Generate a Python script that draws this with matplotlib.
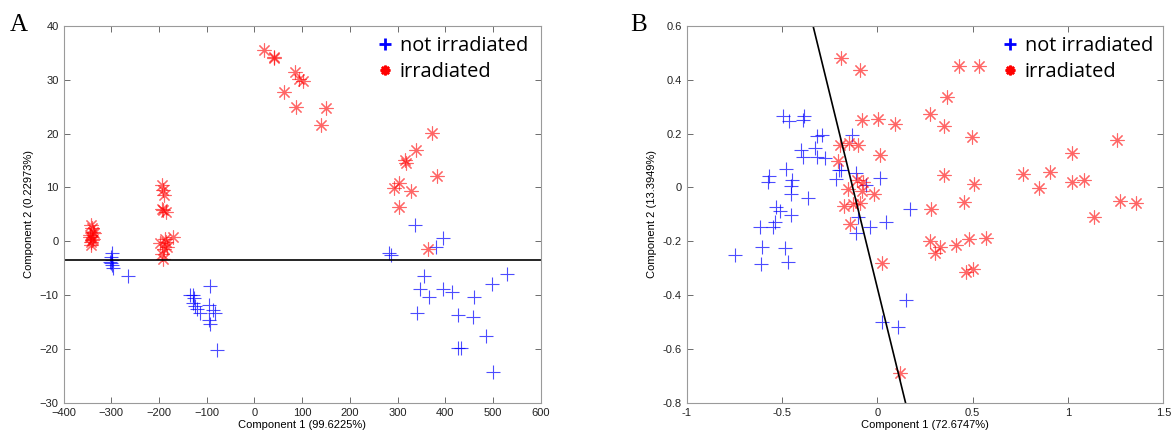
import numpy as np
import matplotlib.pyplot as plt
from matplotlib.lines import Line2D

# panel A data
a_blue_x = [-299, -301, -298, -300, -299, -297, -302, -264,
            -135, -129, -126, -128, -121, -115, -93, -96, -86, -82, -96, -93, -78, -124,
            337, 396, 381, 283, 287, 356, 347, 365, 396, 414, 461, 498, 530,
            340, 426, 459, 486, 426, 433, 500]
a_blue_y = [-2.2, -3.0, -3.5, -4.0, -4.4, -5.0, -3.8, -6.5,
            -10, -10, -10.6, -11.5, -12.5, -13.4, -8.3, -11.9, -12.8, -13.4, -14.6, -15.4, -20.1, -12.0,
            3.1, 0.65, -1.0, -2.2, -2.6, -6.4, -8.9, -10.3, -8.9, -9.5, -10.3, -8.0, -6.1,
            -13.4, -13.6, -14.0, -17.6, -19.9, -19.9, -24.3]
a_red_x = [-343, -339, -344, -341, -342, -336, -340, -345, -338, -343,
           -194, -192, -189, -191, -186, -194, -187, -170, -184, -194, -198, -191, -190, -185,
           20, 40, 41, 84, 94, 102, 62, 87, 150, 139,
           372, 339, 315, 317, 382, 303, 293, 328, 304, 364]
a_red_y = [3.0, 1.8, 0.8, 0.2, -0.7, 1.5, 2.5, 1.2, 0.5, -0.2,
           10.4, 9.5, 8.6, 5.8, 5.5, 6.0, 0.5, 0.8, -1.0, -2.3, -0.4, -3.2, -1.5, -0.2,
           35.5, 34.2, 34.0, 31.4, 30.1, 29.8, 27.7, 24.9, 24.8, 21.7,
           20.2, 17.0, 15.1, 14.5, 12.2, 10.9, 9.9, 9.3, 6.3, -1.5]
a_line_y = -3.4

# panel B data
b_blue_x = [-0.497, -0.463, -0.386, -0.389, -0.319, -0.288, -0.398, -0.389, -0.328, -0.319,
            -0.275, -0.200, -0.218, -0.480, -0.568, -0.571, -0.449, -0.455, -0.455, -0.363,
            -0.533, -0.512, -0.455, -0.538, -0.616, -0.547, -0.604, -0.485, -0.749, -0.608,
            -0.468, -0.135, -0.188, -0.113, 0.013, -0.060, 0.171, -0.101, -0.113, -0.036,
            0.043, 0.148, 0.027, 0.109]
b_blue_y = [0.267, 0.246, 0.267, 0.250, 0.190, 0.196, 0.140, 0.115, 0.147, 0.115,
            0.109, 0.066, 0.032, 0.070, 0.044, 0.022, 0.029, 0.004, -0.025, -0.040,
            -0.073, -0.089, -0.102, -0.127, -0.148, -0.148, -0.220, -0.223, -0.251, -0.284,
            -0.275, 0.196, 0.066, 0.054, 0.035, 0.010, -0.081, -0.108, -0.170, -0.148,
            -0.129, -0.418, -0.499, -0.518]
b_red_x = [-0.188, -0.092, -0.078, 0.001, 0.092, 0.013, -0.197, -0.148, -0.101, -0.206,
           -0.109, -0.075, -0.153, -0.078, -0.017, -0.174, -0.127, -0.092, -0.141, 0.027,
           0.118, 0.275, 0.351, 0.349, 0.284, 0.275, 0.302, 0.328, 0.410, 0.480,
           0.568, 0.463, 0.503, 0.455, 0.429, 0.534, 0.363, 0.494, 0.508, 0.765,
           0.905, 0.849, 1.019, 1.019, 1.083, 1.258, 1.272, 1.356, 1.137]
b_red_y = [0.482, 0.436, 0.252, 0.256, 0.237, 0.122, 0.159, 0.165, 0.159, 0.097,
           0.029, 0.022, -0.006, -0.012, -0.023, -0.068, -0.062, -0.056, -0.136, -0.282,
           -0.691, 0.273, 0.227, 0.047, -0.080, -0.199, -0.242, -0.220, -0.213, -0.192,
           -0.189, -0.313, -0.304, -0.054, 0.451, 0.451, 0.337, 0.188, 0.014, 0.051,
           0.057, -0.002, 0.128, 0.022, 0.026, 0.175, -0.050, -0.058, -0.110]
b_line_x = [-0.337, 0.148]
b_line_y = [0.6, -0.8]

plt.rcParams['font.family'] = ['Liberation Sans', 'DejaVu Sans']
star = (8, 2, 0)

fig = plt.figure(figsize=(11.72, 4.36), dpi=100)
axA = fig.add_axes([0.0542, 0.0761, 0.4072, 0.8643])
axB = fig.add_axes([0.5859, 0.0761, 0.4067, 0.8643])

def style(ax):
    for s in ax.spines.values():
        s.set_color('#9a9a9a')
        s.set_linewidth(0.8)
    ax.tick_params(direction='in', top=True, right=True, labelsize=8,
                   color='#555555', labelcolor='#222222', length=4, width=0.6)

axA.plot(a_blue_x, a_blue_y, '+', color='blue', ms=10, mew=0.8, alpha=0.7, ls='')
axA.plot(a_red_x, a_red_y, marker=star, color='red', ms=10, mew=0.8, alpha=0.6, ls='')
axA.axhline(a_line_y, color='black', lw=1.2)
axA.set_xlim(-400, 600)
axA.set_ylim(-30, 40)
axA.set_xticks(np.arange(-400, 601, 100))
axA.set_yticks(np.arange(-30, 41, 10))
axA.set_xlabel('Component 1 (99.6225%)', fontsize=8, labelpad=2)
axA.set_ylabel('Component 2 (0.22973%)', fontsize=8, labelpad=4)
style(axA)

axB.plot(b_blue_x, b_blue_y, '+', color='blue', ms=10, mew=0.8, alpha=0.7, ls='')
axB.plot(b_red_x, b_red_y, marker=star, color='red', ms=10, mew=0.8, alpha=0.6, ls='')
axB.plot(b_line_x, b_line_y, color='black', lw=1.2)
axB.set_xlim(-1, 1.5)
axB.set_ylim(-0.8, 0.6)
axB.set_xticks([-1, -0.5, 0, 0.5, 1, 1.5])
axB.set_xticklabels(['-1', '-0.5', '0', '0.5', '1', '1.5'])
axB.set_yticks(np.round(np.arange(-0.8, 0.61, 0.2), 1))
axB.set_yticklabels(['-0.8', '-0.6', '-0.4', '-0.2', '0', '0.2', '0.4', '0.6'])
axB.set_xlabel('Component 1 (72.6747%)', fontsize=8, labelpad=2)
axB.set_ylabel('Component 2 (13.3949%)', fontsize=8, labelpad=4)
style(axB)

handles = [Line2D([], [], marker='+', color='blue', ls='', ms=8, mew=2),
           Line2D([], [], marker=star, color='red', ls='', ms=7, mew=1.8)]
labels = ['not irradiated', 'irradiated']
for ax, anchor in [(axA, (0.633, 1.0)), (axB, (0.638, 1.0))]:
    ax.legend(handles, labels, loc='upper left', bbox_to_anchor=anchor, frameon=False,
              prop={'family': 'Open Sans', 'size': 14.4}, handlelength=0.9,
              handletextpad=0.3, labelspacing=0.3, borderaxespad=0.1)

fig.text(10 / 1172, 1 - 25 / 436, 'A', family='Liberation Serif', fontsize=18, va='center')
fig.text(630 / 1172, 1 - 25 / 436, 'B', family='Liberation Serif', fontsize=18, va='center')

fig.savefig('out.png', dpi=100)
